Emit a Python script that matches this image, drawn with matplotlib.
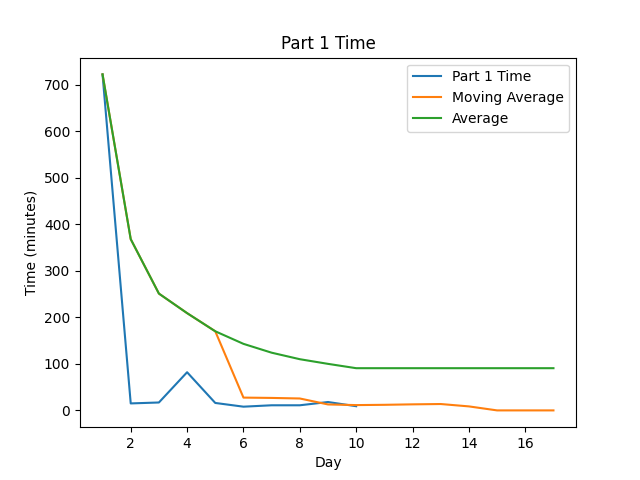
import matplotlib
matplotlib.use("Agg")
import matplotlib.pyplot as plt

days_part = [1, 2, 3, 4, 5, 6, 7, 8, 9, 10]
part1_time = [722, 15, 17, 82, 16, 8, 11, 11, 18, 9]

days_all = list(range(1, 18))
moving_avg = [722, 368, 251, 209, 170, 27.5, 26.8, 25.6, 12.8, 11.4, 12, 13, 13.7, 8.6, 0, 0, 0]
average = [722, 368, 251, 209, 170, 143, 124, 110, 100, 90.7, 90.7, 90.7, 90.7, 90.7, 90.7, 90.7, 90.7]

fig, ax = plt.subplots(figsize=(6.4, 4.8), dpi=100)
ax.plot(days_part, part1_time, label="Part 1 Time")
ax.plot(days_all, moving_avg, label="Moving Average")
ax.plot(days_all, average, label="Average")
ax.set_title("Part 1 Time")
ax.set_xlabel("Day")
ax.set_ylabel("Time (minutes)")
ax.legend()
fig.savefig("out.png")
